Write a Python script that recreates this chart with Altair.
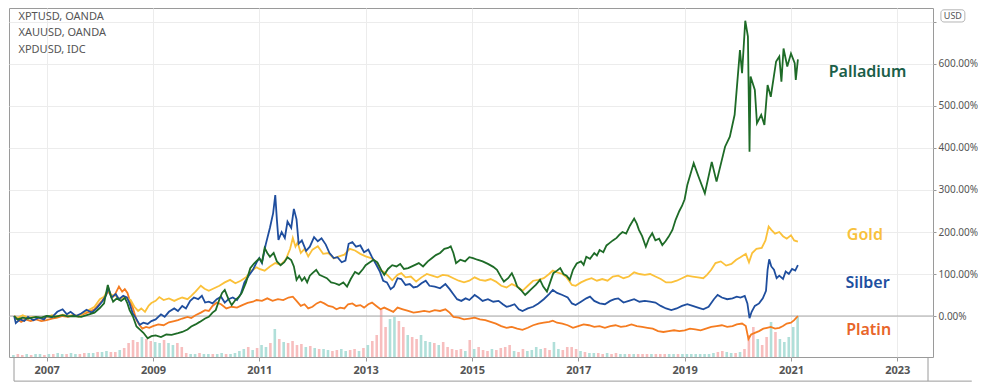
import altair as alt
import pandas as pd

# ---------------- data (percent change since start) ----------------
gold = [
    (2006.39, 0), (2006.45, -5), (2006.55, 2), (2006.65, -4), (2006.8, -2), (2006.9, -6),
    (2007.0, -3), (2007.1, 2), (2007.2, -1), (2007.3, 3), (2007.4, 0), (2007.5, 2),
    (2007.6, -2), (2007.7, 8), (2007.8, 15), (2007.9, 22), (2008.0, 40), (2008.08, 46),
    (2008.15, 62), (2008.22, 50), (2008.3, 48), (2008.38, 40), (2008.45, 46), (2008.5, 43),
    (2008.58, 38), (2008.65, 22), (2008.72, 12), (2008.78, 18), (2008.85, 10), (2008.92, 25),
    (2008.97, 31), (2009.05, 36), (2009.12, 45), (2009.2, 38), (2009.3, 42), (2009.4, 36),
    (2009.47, 40), (2009.55, 44), (2009.65, 40), (2009.72, 48), (2009.8, 58), (2009.9, 72),
    (2009.97, 65), (2010.05, 60), (2010.15, 66), (2010.25, 72), (2010.35, 80), (2010.45, 86),
    (2010.55, 78), (2010.65, 84), (2010.75, 92), (2010.85, 108), (2010.95, 116), (2011.0, 112),
    (2011.1, 108), (2011.2, 118), (2011.3, 126), (2011.4, 122), (2011.5, 135), (2011.58, 160),
    (2011.63, 186), (2011.68, 165), (2011.72, 175), (2011.78, 150), (2011.85, 160), (2011.92, 142),
    (2012.0, 158), (2012.1, 166), (2012.2, 148), (2012.3, 150), (2012.4, 137), (2012.5, 142),
    (2012.6, 146), (2012.7, 160), (2012.8, 156), (2012.9, 148), (2013.0, 142), (2013.1, 138),
    (2013.2, 128), (2013.27, 110), (2013.35, 104), (2013.42, 96), (2013.5, 85), (2013.6, 98),
    (2013.67, 102), (2013.75, 92), (2013.85, 94), (2013.95, 82), (2014.05, 92), (2014.15, 100),
    (2014.25, 96), (2014.35, 92), (2014.45, 98), (2014.55, 96), (2014.65, 90), (2014.75, 84),
    (2014.85, 80), (2014.95, 84), (2015.05, 92), (2015.15, 86), (2015.25, 84), (2015.35, 88),
    (2015.45, 82), (2015.55, 72), (2015.65, 68), (2015.75, 76), (2015.85, 70), (2015.95, 60),
    (2016.05, 72), (2016.15, 84), (2016.25, 86), (2016.35, 90), (2016.45, 100), (2016.52, 108),
    (2016.6, 104), (2016.7, 100), (2016.78, 92), (2016.88, 74), (2016.95, 72), (2017.05, 80),
    (2017.15, 86), (2017.25, 90), (2017.35, 84), (2017.45, 88), (2017.55, 84), (2017.65, 94),
    (2017.75, 96), (2017.85, 90), (2017.95, 94), (2018.05, 104), (2018.15, 100), (2018.25, 98),
    (2018.35, 100), (2018.45, 94), (2018.55, 88), (2018.65, 80), (2018.75, 80), (2018.85, 84),
    (2018.95, 90), (2019.05, 96), (2019.15, 94), (2019.25, 92), (2019.35, 90), (2019.42, 98),
    (2019.5, 110), (2019.58, 126), (2019.68, 130), (2019.78, 120), (2019.88, 124), (2019.97, 134),
    (2020.05, 140), (2020.15, 148), (2020.21, 128), (2020.27, 150), (2020.35, 160), (2020.45, 162),
    (2020.52, 180), (2020.58, 213), (2020.63, 205), (2020.7, 196), (2020.78, 200), (2020.85, 190),
    (2020.92, 184), (2021.0, 192), (2021.06, 180), (2021.13, 177),
]

silber = [
    (2006.39, 0), (2006.42, -17), (2006.5, -8), (2006.58, -12), (2006.65, -2), (2006.75, -10),
    (2006.85, -4), (2006.95, -8), (2007.0, 0), (2007.1, -3), (2007.2, 10), (2007.3, 16),
    (2007.38, 4), (2007.45, 10), (2007.55, 0), (2007.65, 6), (2007.75, 15), (2007.85, 8),
    (2007.95, 20), (2008.05, 35), (2008.12, 50), (2008.16, 67), (2008.22, 44), (2008.3, 52),
    (2008.36, 40), (2008.44, 48), (2008.51, 44), (2008.56, 30), (2008.62, 6), (2008.68, -5),
    (2008.75, -21), (2008.82, -16), (2008.9, -19), (2008.97, -12), (2009.05, -8), (2009.15, 4),
    (2009.22, -2), (2009.3, 10), (2009.4, 18), (2009.47, 12), (2009.55, 24), (2009.62, 18),
    (2009.7, 36), (2009.77, 44), (2009.85, 40), (2009.92, 48), (2009.98, 32), (2010.05, 34),
    (2010.12, 30), (2010.2, 40), (2010.28, 46), (2010.35, 32), (2010.42, 40), (2010.5, 44),
    (2010.58, 38), (2010.65, 52), (2010.72, 80), (2010.8, 96), (2010.88, 110), (2010.95, 128),
    (2011.0, 138), (2011.05, 126), (2011.12, 170), (2011.2, 210), (2011.26, 245), (2011.3, 288),
    (2011.33, 230), (2011.36, 181), (2011.42, 200), (2011.48, 186), (2011.53, 225), (2011.6, 210),
    (2011.65, 255), (2011.7, 230), (2011.74, 172), (2011.8, 180), (2011.88, 155), (2011.95, 165),
    (2012.03, 188), (2012.1, 178), (2012.17, 185), (2012.25, 170), (2012.32, 150), (2012.4, 138),
    (2012.47, 140), (2012.55, 128), (2012.62, 132), (2012.68, 172), (2012.75, 176), (2012.82, 165),
    (2012.9, 168), (2012.97, 152), (2013.05, 158), (2013.12, 140), (2013.2, 122), (2013.27, 105),
    (2013.33, 84), (2013.4, 80), (2013.47, 64), (2013.53, 70), (2013.6, 90), (2013.67, 88),
    (2013.75, 74), (2013.83, 76), (2013.9, 68), (2013.97, 70), (2014.05, 78), (2014.13, 84),
    (2014.2, 72), (2014.3, 70), (2014.4, 66), (2014.5, 76), (2014.58, 64), (2014.65, 52),
    (2014.72, 40), (2014.8, 36), (2014.88, 42), (2014.95, 38), (2015.05, 50), (2015.12, 44),
    (2015.2, 36), (2015.3, 40), (2015.4, 34), (2015.5, 36), (2015.58, 28), (2015.65, 22),
    (2015.72, 24), (2015.8, 28), (2015.88, 16), (2015.95, 12), (2016.05, 18), (2016.15, 22),
    (2016.25, 30), (2016.35, 40), (2016.45, 52), (2016.52, 62), (2016.6, 55), (2016.7, 50),
    (2016.8, 44), (2016.88, 30), (2016.95, 26), (2017.05, 34), (2017.15, 42), (2017.22, 46),
    (2017.3, 36), (2017.4, 30), (2017.5, 28), (2017.6, 36), (2017.68, 40), (2017.75, 42),
    (2017.85, 32), (2017.95, 36), (2018.05, 40), (2018.15, 34), (2018.25, 36), (2018.35, 34),
    (2018.45, 32), (2018.55, 24), (2018.65, 18), (2018.75, 14), (2018.85, 18), (2018.95, 24),
    (2019.05, 28), (2019.15, 24), (2019.25, 20), (2019.35, 16), (2019.45, 22), (2019.55, 40),
    (2019.62, 50), (2019.7, 44), (2019.8, 40), (2019.9, 42), (2019.98, 46), (2020.05, 44),
    (2020.13, 48), (2020.18, 30), (2020.22, -5), (2020.26, 10), (2020.32, 24), (2020.4, 30),
    (2020.47, 42), (2020.53, 60), (2020.56, 110), (2020.59, 135), (2020.63, 118), (2020.68, 110),
    (2020.73, 90), (2020.78, 96), (2020.85, 88), (2020.9, 106), (2020.96, 100), (2021.02, 112),
    (2021.08, 108), (2021.13, 121),
]

platin = [
    (2006.39, 0), (2006.45, -8), (2006.52, -14), (2006.6, -8), (2006.7, -12), (2006.8, -8),
    (2006.9, -12), (2007.0, -10), (2007.1, -6), (2007.2, -4), (2007.3, 0), (2007.4, -2),
    (2007.5, 2), (2007.6, 0), (2007.7, 5), (2007.8, 10), (2007.9, 16), (2008.0, 30),
    (2008.08, 42), (2008.15, 58), (2008.2, 52), (2008.25, 46), (2008.3, 55), (2008.36, 70),
    (2008.42, 58), (2008.47, 64), (2008.52, 55), (2008.56, 38), (2008.62, 20), (2008.69, -10),
    (2008.75, -22), (2008.8, -30), (2008.87, -26), (2008.93, -28), (2009.0, -24), (2009.1, -20),
    (2009.2, -22), (2009.3, -15), (2009.4, -12), (2009.47, -10), (2009.55, -6), (2009.65, -2),
    (2009.72, -5), (2009.8, 2), (2009.9, 8), (2009.98, 14), (2010.05, 12), (2010.12, 24),
    (2010.2, 32), (2010.28, 28), (2010.38, 18), (2010.48, 22), (2010.58, 20), (2010.68, 26),
    (2010.78, 31), (2010.88, 34), (2010.95, 38), (2011.05, 36), (2011.15, 42), (2011.25, 36),
    (2011.35, 40), (2011.45, 38), (2011.55, 44), (2011.63, 46), (2011.7, 36), (2011.78, 24),
    (2011.85, 28), (2011.92, 18), (2012.0, 22), (2012.08, 30), (2012.15, 34), (2012.22, 30),
    (2012.3, 24), (2012.38, 22), (2012.45, 16), (2012.52, 20), (2012.6, 18), (2012.67, 28),
    (2012.75, 30), (2012.82, 24), (2012.9, 26), (2012.97, 20), (2013.05, 28), (2013.12, 32),
    (2013.2, 24), (2013.28, 16), (2013.35, 20), (2013.45, 14), (2013.52, 10), (2013.6, 20),
    (2013.7, 16), (2013.8, 12), (2013.9, 8), (2014.0, 10), (2014.1, 12), (2014.2, 10),
    (2014.3, 14), (2014.4, 12), (2014.5, 16), (2014.58, 8), (2014.65, -2), (2014.75, -4),
    (2014.85, -8), (2014.95, -6), (2015.05, -4), (2015.15, -8), (2015.25, -10), (2015.35, -14),
    (2015.45, -18), (2015.55, -24), (2015.65, -28), (2015.75, -26), (2015.85, -30), (2015.95, -33),
    (2016.05, -28), (2016.15, -22), (2016.25, -18), (2016.35, -16), (2016.45, -14), (2016.52, -11),
    (2016.6, -16), (2016.7, -18), (2016.8, -22), (2016.9, -28), (2017.0, -24), (2017.1, -20),
    (2017.2, -22), (2017.3, -26), (2017.4, -24), (2017.5, -28), (2017.6, -24), (2017.7, -22),
    (2017.8, -26), (2017.9, -24), (2018.0, -20), (2018.1, -24), (2018.2, -26), (2018.3, -28),
    (2018.4, -30), (2018.5, -36), (2018.6, -38), (2018.7, -36), (2018.8, -34), (2018.9, -36),
    (2019.0, -34), (2019.1, -30), (2019.2, -32), (2019.3, -34), (2019.4, -30), (2019.5, -26),
    (2019.6, -24), (2019.7, -22), (2019.8, -26), (2019.9, -24), (2019.98, -20), (2020.08, -18),
    (2020.15, -24), (2020.2, -55), (2020.25, -44), (2020.32, -40), (2020.4, -36), (2020.48, -30),
    (2020.55, -28), (2020.62, -26), (2020.7, -30), (2020.78, -28), (2020.85, -24), (2020.92, -18),
    (2021.0, -16), (2021.06, -10), (2021.13, 0),
]

palladium = [
    (2006.39, 0), (2006.45, -8), (2006.55, -4), (2006.65, -6), (2006.8, -2), (2006.9, -4),
    (2007.0, 0), (2007.15, -2), (2007.3, 2), (2007.4, -1), (2007.5, 0), (2007.65, -2),
    (2007.8, 4), (2007.9, 8), (2008.0, 19), (2008.08, 30), (2008.15, 74), (2008.2, 50),
    (2008.25, 34), (2008.32, 42), (2008.4, 36), (2008.47, 43), (2008.52, 30), (2008.56, 14),
    (2008.62, 0), (2008.69, -25), (2008.75, -32), (2008.82, -40), (2008.9, -53), (2008.97, -48),
    (2009.05, -46), (2009.15, -50), (2009.25, -44), (2009.35, -45), (2009.47, -41), (2009.55, -38),
    (2009.65, -32), (2009.72, -25), (2009.8, -20), (2009.88, -14), (2009.98, -6), (2010.05, -2),
    (2010.12, 8), (2010.18, 14), (2010.25, 40), (2010.3, 55), (2010.35, 62), (2010.42, 40),
    (2010.48, 26), (2010.55, 38), (2010.62, 46), (2010.67, 55), (2010.75, 80), (2010.83, 114),
    (2010.9, 125), (2011.0, 137), (2011.05, 128), (2011.1, 162), (2011.15, 150), (2011.2, 141),
    (2011.27, 150), (2011.33, 130), (2011.4, 121), (2011.47, 128), (2011.53, 140), (2011.6, 133),
    (2011.65, 118), (2011.7, 86), (2011.75, 96), (2011.8, 84), (2011.85, 92), (2011.9, 80),
    (2011.95, 96), (2012.0, 102), (2012.07, 110), (2012.13, 98), (2012.2, 94), (2012.27, 90),
    (2012.35, 80), (2012.42, 78), (2012.5, 74), (2012.58, 80), (2012.65, 70), (2012.72, 88),
    (2012.8, 105), (2012.87, 100), (2012.95, 112), (2013.0, 121), (2013.08, 128), (2013.15, 134),
    (2013.22, 128), (2013.3, 108), (2013.35, 98), (2013.42, 112), (2013.5, 121), (2013.58, 118),
    (2013.65, 124), (2013.72, 112), (2013.8, 114), (2013.9, 120), (2014.0, 126), (2014.08, 118),
    (2014.17, 130), (2014.25, 138), (2014.32, 145), (2014.4, 150), (2014.48, 160), (2014.55, 162),
    (2014.6, 166), (2014.65, 150), (2014.7, 126), (2014.78, 134), (2014.87, 130), (2014.95, 140),
    (2015.02, 138), (2015.1, 134), (2015.2, 130), (2015.3, 124), (2015.4, 117), (2015.47, 110),
    (2015.55, 92), (2015.6, 82), (2015.68, 90), (2015.75, 102), (2015.8, 88), (2015.85, 70),
    (2015.92, 62), (2016.0, 50), (2016.05, 56), (2016.1, 62), (2016.2, 74), (2016.28, 86),
    (2016.34, 70), (2016.41, 58), (2016.47, 80), (2016.53, 102), (2016.6, 108), (2016.66, 114),
    (2016.72, 100), (2016.78, 96), (2016.84, 86), (2016.9, 110), (2016.97, 125), (2017.05, 130),
    (2017.1, 122), (2017.15, 141), (2017.22, 136), (2017.3, 150), (2017.35, 144), (2017.4, 157),
    (2017.47, 152), (2017.53, 168), (2017.58, 173), (2017.65, 180), (2017.72, 186), (2017.77, 193),
    (2017.83, 200), (2017.9, 196), (2017.97, 215), (2018.05, 232), (2018.1, 220), (2018.14, 205),
    (2018.2, 190), (2018.27, 165), (2018.33, 185), (2018.39, 197), (2018.45, 180), (2018.52, 184),
    (2018.58, 169), (2018.64, 178), (2018.7, 189), (2018.77, 205), (2018.83, 229), (2018.9, 250),
    (2018.95, 262), (2019.0, 278), (2019.05, 312), (2019.17, 364), (2019.26, 332), (2019.38, 292),
    (2019.51, 367), (2019.6, 320), (2019.76, 403), (2019.85, 427), (2019.94, 479), (2020.04, 633),
    (2020.08, 578), (2020.14, 703), (2020.19, 665), (2020.22, 391), (2020.24, 570), (2020.32, 538),
    (2020.36, 459), (2020.44, 479), (2020.5, 455), (2020.56, 550), (2020.62, 522), (2020.72, 606),
    (2020.78, 618), (2020.82, 558), (2020.86, 637), (2020.93, 594), (2021.0, 625), (2021.07, 602),
    (2021.09, 562), (2021.13, 611),
]

# monthly volume (relative units), May 2006 .. Feb 2021
volume = [
    2, 3, 2, 3, 2, 3, 3, 2,
    3, 3, 4, 3, 3, 4, 3, 3, 4, 4, 4, 5,
    5, 6, 5, 5, 7, 9, 14, 17, 15, 20, 18, 16,
    15, 14, 17, 14, 12, 14, 10, 4, 3, 3, 4, 3,
    3, 3, 3, 4, 3, 3, 4, 6, 8, 10, 7, 9,
    12, 10, 14, 28, 18, 15, 14, 16, 12, 13, 10, 11,
    9, 8, 8, 7, 6, 7, 8, 6, 7, 8, 6, 9,
    12, 16, 22, 47, 30, 38, 40, 36, 30, 22, 20, 18,
    22, 16, 15, 14, 12, 15, 10, 8, 7, 8, 6, 17,
    8, 10, 7, 6, 8, 7, 9, 10, 12, 6, 5, 8,
    6, 7, 10, 8, 9, 7, 15, 8, 7, 10, 10, 8,
    6, 5, 4, 4, 4, 3, 4, 3, 4, 3, 3, 3,
    3, 3, 3, 3, 3, 3, 3, 3, 3, 3, 3, 3,
    3, 3, 3, 3, 3, 3, 4, 5, 6, 5, 4, 4,
    5, 8, 22, 30, 18, 12, 20, 35, 25, 18, 15, 20,
    30, 40,
]
volume_dir = (
    "udduduud" "uduuduudduud" "uudduddddudd" "uuduuddduudu" "uduuduuuudud"
    "uudududdddud" "uduudduuddud" "udddduuddudd" "uuududddddud" "uddduddddudd"
    "uuuudduudddd" "uduuddudduud" "uddduddduudu" "uuuuuuudduud" "udddudduduuu" "uu"
)

header_lines = ["XPTUSD, OANDA", "XAUUSD, OANDA", "XPDUSD, IDC"]
series_names = ["Platin", "Gold", "Silber", "Palladium"]
line_colors = ["#f57c20", "#fbc13a", "#1f4e9e", "#1e6b27"]
label_colors = ["#e8652a", "#f8c13c", "#1e50a0", "#1b5e48"]
label_pos = [(2022.46, -33), (2022.39, 193), (2022.44, 79), (2022.44, 581)]
year_ticks = [2007, 2009, 2011, 2013, 2015, 2017, 2019, 2021, 2023]
pct_ticks = [0, 100, 200, 300, 400, 500, 600, 700]

# ---------------- frames ----------------
rows = []
for name, pts in zip(series_names, [platin, gold, silber, palladium]):
    for yr, v in pts:
        rows.append({"year": yr, "pct": v, "metal": name})
lines_df = pd.DataFrame(rows)

assert len(volume) == len(volume_dir)
vol_df = pd.DataFrame({
    "year": [2006 + (4 + i + 0.5) / 12 for i in range(len(volume))],
    "vol": volume,
    "dir": list(volume_dir),
})

PLOT_W = 924
X_DOM = [2006.386, 2023.577]
Y_DOM = [-97.6, 733.3]
FRAME_BOTTOM = -155      # outer panel frame, below the time axis
FRAME_RIGHT = 2024.40
xs = alt.Scale(domain=X_DOM, nice=False, zero=False)
ys = alt.Scale(domain=Y_DOM, nice=False, zero=False)

x_axis = alt.Axis(values=year_ticks, format="d", grid=True, gridColor="#ececec",
                  tickColor="#9a9a9a", tickSize=4, labelPadding=3, domain=False,
                  labelFontSize=11, labelColor="#555555", labelFontWeight="bold", title=None)

vol = alt.Chart(vol_df).mark_bar(size=2.6, opacity=0.7).encode(
    x=alt.X("year:Q", scale=xs, axis=x_axis),
    y=alt.Y("vol:Q", scale=alt.Scale(domain=[0, 349]), axis=None),
    color=alt.Color("dir:N", scale=alt.Scale(domain=["u", "d"], range=["#8fd1c9", "#f3a3a3"]), legend=None),
)

zero = alt.Chart(pd.DataFrame({"pct": [0]})).mark_rule(color="#a8a8a8", strokeWidth=1).encode(
    y=alt.Y("pct:Q", scale=ys, axis=None)
)

frame_df = pd.DataFrame({
    "x": [X_DOM[0], X_DOM[1], X_DOM[0]],
    "x2": [X_DOM[0], X_DOM[1], FRAME_RIGHT],
    "y": [Y_DOM[0], Y_DOM[0], FRAME_BOTTOM],
    "y2": [FRAME_BOTTOM, FRAME_BOTTOM, FRAME_BOTTOM],
})
frame = alt.Chart(frame_df).mark_rule(color="#9a9a9a", strokeWidth=1).encode(
    x=alt.X("x:Q", scale=xs), x2="x2:Q",
    y=alt.Y("y:Q", scale=ys, axis=None), y2="y2:Q",
)

y_axis = alt.Axis(orient="right", values=pct_ticks,
                  labelExpr="datum.value == 700 ? '' : format(datum.value, '.2f') + '%'",
                  grid=True, gridColor="#ececec", tickColor="#9a9a9a", tickSize=3, labelPadding=2,
                  domain=False, labelFontSize=10, labelColor="#555555", title=None)

lines = alt.Chart(lines_df).mark_line(strokeWidth=1.8, interpolate="linear").encode(
    x=alt.X("year:Q", scale=xs),
    y=alt.Y("pct:Q", scale=ys, axis=y_axis),
    color=alt.Color("metal:N", scale=alt.Scale(domain=series_names, range=line_colors), legend=None),
    order=alt.Order("year:Q"),
)

texts = []
for name, col, (yr, v) in zip(series_names, label_colors, label_pos):
    texts.append(
        alt.Chart(pd.DataFrame({"year": [yr], "pct": [v], "t": [name]}))
        .mark_text(color=col, fontSize=16, fontWeight=600, font="Noto Sans", align="center", baseline="middle")
        .encode(x=alt.X("year:Q", scale=xs), y=alt.Y("pct:Q", scale=ys, axis=None), text="t:N")
    )

header = alt.Chart(pd.DataFrame({"year": [2006.47] * 3, "pct": [712, 674, 634], "t": header_lines})).mark_text(
    color="#555555", fontSize=11, font="Noto Sans", align="left", baseline="middle"
).encode(x=alt.X("year:Q", scale=xs), y=alt.Y("pct:Q", scale=ys, axis=None), text="t:N")

usd_box = alt.Chart(pd.DataFrame({"x": [2023.82], "x2": [2024.27], "y": [729], "y2": [700]})).mark_rect(
    fill="white", stroke="#b5b5b5", strokeWidth=1, cornerRadius=3
).encode(
    x=alt.X("x:Q", scale=xs), x2="x2:Q",
    y=alt.Y("y:Q", scale=ys, axis=None), y2="y2:Q",
)
usd_text = alt.Chart(pd.DataFrame({"x": [2024.045], "y": [714.5], "t": ["USD"]})).mark_text(
    color="#555555", fontSize=9, font="Noto Sans", align="center", baseline="middle"
).encode(x=alt.X("x:Q", scale=xs), y=alt.Y("y:Q", scale=ys, axis=None), text="t:N")

chart = alt.layer(vol, zero, frame, lines, *texts, header, usd_box, usd_text).resolve_scale(
    y="independent", color="independent"
).properties(
    width=PLOT_W, height=349, padding={"left": 0, "top": 0, "right": 0, "bottom": 0}
).configure_view(
    stroke="#9a9a9a", strokeWidth=1
).configure_axis(
    labelFont="Noto Sans"
)

chart.save("out.html", embed_options={"renderer": "svg", "actions": False})
